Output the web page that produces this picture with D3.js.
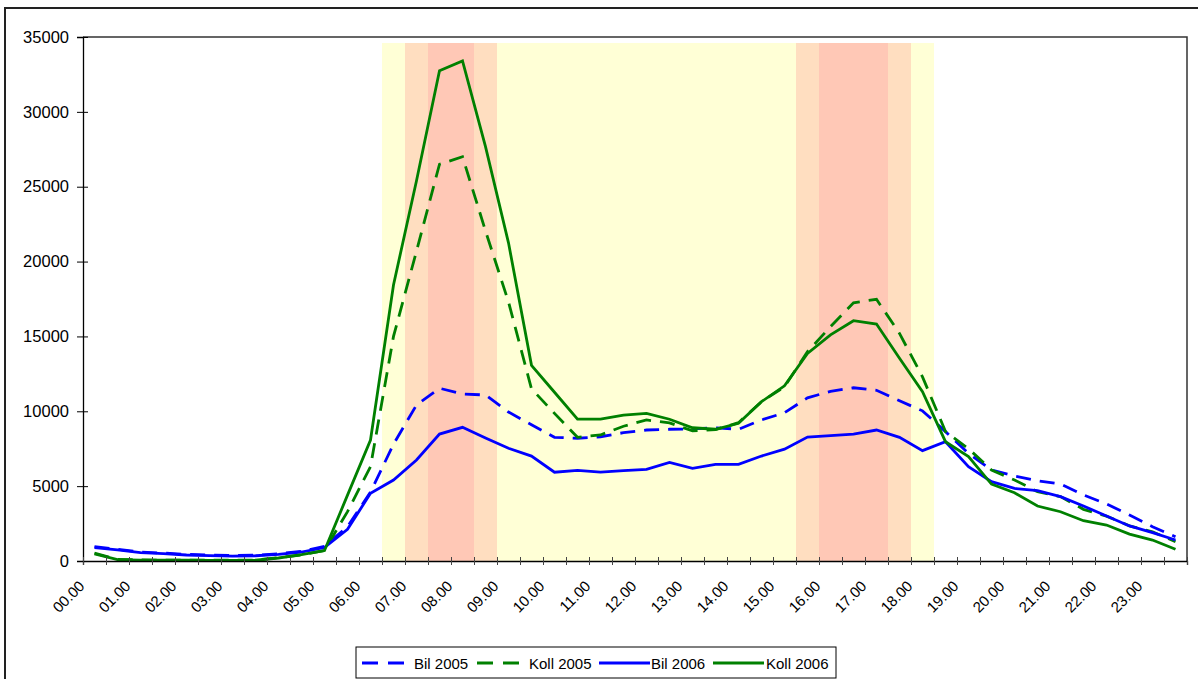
<!DOCTYPE html>
<html>
<head>
<meta charset="utf-8">
<script src="https://cdn.jsdelivr.net/npm/d3@7"></script>
<style>
  html, body { margin: 0; padding: 0; background: #fff; }
  svg { display: block; font-family: "Liberation Sans", Arial, sans-serif; }
</style>
</head>
<body>
<svg id="chart" width="1198" height="679"></svg>
<script>
// Half-hour time slots along the category axis
const slots = [
  "00.00","00.30","01.00","01.30","02.00","02.30","03.00","03.30",
  "04.00","04.30","05.00","05.30","06.00","06.30","07.00","07.30",
  "08.00","08.30","09.00","09.30","10.00","10.30","11.00","11.30",
  "12.00","12.30","13.00","13.30","14.00","14.30","15.00","15.30",
  "16.00","16.30","17.00","17.30","18.00","18.30","19.00","19.30",
  "20.00","20.30","21.00","21.30","22.00","22.30","23.00","23.30"
];

// Hour labels printed under the axis
const hourLabels = [
  "00.00","01.00","02.00","03.00","04.00","05.00","06.00","07.00",
  "08.00","09.00","10.00","11.00","12.00","13.00","14.00","15.00",
  "16.00","17.00","18.00","19.00","20.00","21.00","22.00","23.00"
];

const yTicks = [0, 5000, 10000, 15000, 20000, 25000, 30000, 35000];

// Passages per half hour
const bil2005 = [
  960, 790, 600, 530, 440, 400, 360, 390, 480, 650, 980, 2300,
  4600, 7800, 10420, 11540, 11150, 11090, 9950, 9100, 8260, 8200, 8300, 8570,
  8750, 8800, 8820, 8900, 8800, 9420, 9900, 10900, 11330, 11570, 11400, 10700,
  10030, 8640, 7190, 6080, 5680, 5360, 5140, 4410, 3810, 3070, 2290, 1620
];
const koll2005 = [
  520, 110, 70, 60, 55, 50, 50, 60, 220, 400, 700, 3300,
  6300, 15000, 20700, 26500, 27000, 22050, 17300, 11500, 9860, 8260, 8420, 9000,
  9420, 9220, 8700, 8770, 9240, 10640, 11640, 13980, 15650, 17250, 17480, 15200,
  12300, 8650, 7500, 6080, 5410, 4630, 4300, 3450, 3000, 2350, 1950, 1290
];
const bil2006 = [
  900, 740, 560, 490, 400, 360, 330, 350, 440, 600, 900, 2120,
  4520, 5410, 6750, 8480, 8930, 8220, 7530, 7010, 5930, 6050, 5930, 6030,
  6120, 6590, 6190, 6460, 6460, 7010, 7470, 8280, 8370, 8480, 8750, 8260,
  7370, 7970, 6300, 5300, 4850, 4700, 4300, 3670, 3010, 2340, 1890, 1400
];
const koll2006 = [
  480, 90, 60, 50, 50, 40, 40, 50, 200, 420, 700, 4400,
  8080, 18440, 25400, 32750, 33400, 27680, 21250, 13070, 11270, 9470, 9470, 9750,
  9860, 9470, 8900, 8800, 9200, 10640, 11700, 13870, 15100, 16050, 15830, 13540,
  11310, 7970, 6970, 5140, 4560, 3670, 3290, 2690, 2400, 1800, 1400, 780
];

// Background periods (start slot inclusive, end slot exclusive)
const dayPeriods = [["06.30", "18.30"]];
const shoulderPeriods = [["07.00", "09.00"], ["15.30", "18.00"]];
const peakPeriods = [["07.30", "08.30"], ["16.00", "17.30"]];
const bandTop = 34600;

const series = [
  { name: "Bil 2005", values: bil2005, color: "#0000ff", dashed: true },
  { name: "Koll 2005", values: koll2005, color: "#008000", dashed: true },
  { name: "Bil 2006", values: bil2006, color: "#0000ff", dashed: false },
  { name: "Koll 2006", values: koll2006, color: "#008000", dashed: false }
];

const svg = d3.select("#chart");
const plotL = 83, plotR = 1187, plotT = 37, plotB = 561;

// Outer chart frame
svg.append("rect")
  .attr("x", 5).attr("y", 8).attr("width", 1200).attr("height", 700)
  .attr("fill", "#fff").attr("stroke", "#222").attr("stroke-width", 2);

const x = d3.scaleBand().domain(slots).range([plotL, plotR]).padding(0);
const bw = x.bandwidth();
const cx = s => x(s) + bw / 2;
const y = d3.scaleLinear().domain([0, 35000]).range([plotB, plotT]);

// Shaded periods
function drawBands(periods, fill) {
  svg.append("g").selectAll("rect").data(periods).join("rect")
    .attr("x", d => x(d[0]))
    .attr("width", d => x(d[1]) - x(d[0]))
    .attr("y", y(bandTop))
    .attr("height", y(0) - y(bandTop))
    .attr("fill", fill);
}
drawBands(dayPeriods, "#ffffd6");
drawBands(shoulderPeriods, "#ffdec0");
drawBands(peakPeriods, "#ffc8b6");

// Plot frame (top and right)
svg.append("path")
  .attr("d", `M${plotL},${plotT}H${plotR}V${plotB}`)
  .attr("fill", "none").attr("stroke", "#333").attr("stroke-width", 1.5);

// Series lines
const line = d3.line()
  .x((d, i) => cx(slots[i]))
  .y(d => y(d));

svg.append("g").selectAll("path").data(series).join("path")
  .attr("d", d => line(d.values))
  .attr("fill", "none")
  .attr("stroke", d => d.color)
  .attr("stroke-width", 2.8)
  .attr("stroke-linejoin", "miter")
  .attr("stroke-dasharray", d => d.dashed ? "15,9" : null);

// Y axis
const yAxis = svg.append("g")
  .attr("transform", `translate(${plotL},0)`)
  .call(d3.axisLeft(y).tickValues(yTicks).tickSize(6).tickPadding(8).tickFormat(d3.format("d")));
yAxis.select(".domain").attr("stroke", "#000").attr("stroke-width", 1.3);
yAxis.selectAll(".tick line").attr("x1", 5).attr("x2", -6).attr("stroke", "#000");
yAxis.selectAll(".tick text")
  .attr("font-size", 16.5).attr("fill", "#000")
  .attr("font-family", "Liberation Sans, Arial, sans-serif");

// X axis: tick marks on slot boundaries
const xi = d3.scaleLinear().domain([0, slots.length]).range([plotL, plotR]);
const xAxis = svg.append("g")
  .attr("transform", `translate(0,${plotB})`)
  .call(d3.axisBottom(xi).tickValues(d3.range(slots.length + 1)).tickSize(4).tickFormat(""));
xAxis.select(".domain").attr("stroke", "#000").attr("stroke-width", 1.3);
xAxis.selectAll(".tick line").attr("y1", -4).attr("y2", 4).attr("stroke", "#444");

// Hour labels, rotated
svg.append("g").selectAll("text").data(hourLabels).join("text")
  .attr("transform", d => `translate(${cx(d) - 9},${plotB + 26}) rotate(-45)`)
  .attr("text-anchor", "end")
  .attr("font-size", 15)
  .attr("fill", "#000")
  .text(d => d);

// Legend
const lg = svg.append("g");
lg.append("rect")
  .attr("x", 356).attr("y", 647).attr("width", 480).attr("height", 31)
  .attr("fill", "#fff").attr("stroke", "#000").attr("stroke-width", 1);
const legendPos = [
  { x1: 362, x2: 404, tx: 414 },
  { x1: 477, x2: 519, tx: 529 },
  { x1: 599, x2: 650, tx: 651 },
  { x1: 713, x2: 764, tx: 766 }
];
series.forEach((s, i) => {
  const p = legendPos[i];
  lg.append("line")
    .attr("x1", p.x1).attr("x2", p.x2).attr("y1", 663).attr("y2", 663)
    .attr("stroke", s.color).attr("stroke-width", 3)
    .attr("stroke-dasharray", s.dashed ? "16,10" : null);
  lg.append("text")
    .attr("x", p.tx).attr("y", 668.5)
    .attr("font-size", 15).attr("fill", "#000")
    .text(s.name);
});
</script>
</body>
</html>
